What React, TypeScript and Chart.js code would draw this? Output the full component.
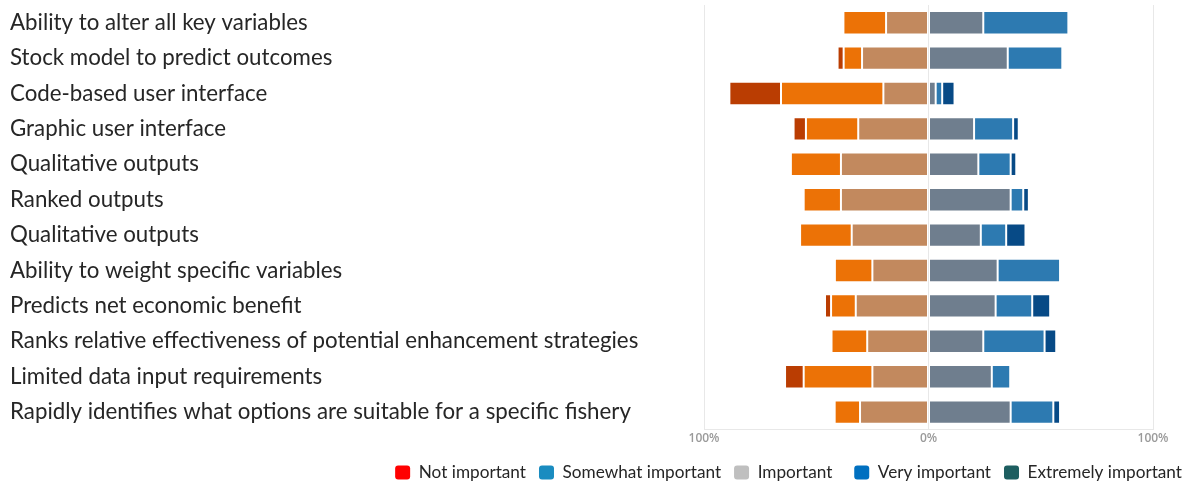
import React, { useEffect, useRef } from "react";
import { Chart, registerables } from "chart.js";

Chart.register(...registerables);

const categories = [
  "Ability to alter all key variables",
  "Stock model to predict outcomes",
  "Code-based user interface",
  "Graphic user interface",
  "Qualitative outputs",
  "Ranked outputs",
  "Qualitative outputs",
  "Ability to weight specific variables",
  "Predicts net economic benefit",
  "Ranks relative effectiveness of potential enhancement strategies",
  "Limited data input requirements",
  "Rapidly identifies what options are suitable for a specific fishery",
];

// left side (shown as negative percentages)
const notImportant = [null, 2.7, 23.0, 5.5, null, null, null, null, 2.7, null, 8.3, null];
const somewhatImportant = [19.0, 8.2, 45.6, 23.3, 22.3, 16.6, 23.0, 16.7, 11.0, 15.9, 30.6, 11.3];
const moderatelyImportant = [18.9, 29.6, 20.1, 31.3, 39.0, 39.0, 34.2, 25.0, 32.4, 27.3, 25.0, 30.5];
// right side
const important = [24.4, 35.3, 3.2, 20.3, 22.2, 36.6, 23.3, 30.8, 29.9, 24.4, 28.2, 36.6];
const veryImportant = [37.9, 24.3, 2.9, 17.4, 14.4, 5.6, 11.3, 27.8, 16.3, 27.3, 8.2, 19.0];
const extremelyImportant = [null, null, 5.5, 2.5, 2.5, 2.5, 8.6, null, 8.0, 5.2, null, 3.0];

const xTicks = [-100, 0, 100];

const legendLabels = [
  "Not important",
  "Somewhat important",
  "Important  ",
  "Very important",
  "Extremely important",
];
const legendColors = ["#FF0000", "#1A8CC0", "#BFBFBF", "#0070C0", "#1D5E60"];

const neg = (arr: (number | null)[]) => arr.map((v) => (v == null ? null : -v));

export default function App() {
  const canvasRef = useRef<HTMLCanvasElement | null>(null);

  useEffect(() => {
    if (!canvasRef.current) return;
    const border = "rgba(255,255,255,0.25)";
    const mk = (label: string, data: (number | null)[], color: string) => ({
      label,
      data,
      backgroundColor: color,
      borderColor: border,
      borderWidth: 1,
      borderSkipped: false,
      barPercentage: 0.66,
      categoryPercentage: 1,
    });
    const chart = new Chart(canvasRef.current, {
      type: "bar",
      data: {
        labels: categories,
        datasets: [
          mk("Moderately important", neg(moderatelyImportant), "#C2895E"),
          mk("Somewhat important", neg(somewhatImportant), "#EC7206"),
          mk("Not important", neg(notImportant), "#BA3D02"),
          mk("Important", important, "#6F7E8E"),
          mk("Very important", veryImportant, "#2D7AB1"),
          mk("Extremely important", extremelyImportant, "#074A86"),
        ] as any,
      },
      options: {
        indexAxis: "y",
        animation: false,
        responsive: true,
        maintainAspectRatio: false,
        layout: { padding: { left: 10, top: 5, right: 0, bottom: 0 } },
        plugins: {
          tooltip: { enabled: false },
          legend: {
            position: "bottom",
            align: "end",
            labels: {
              color: "#262626",
              font: { family: "Lato", size: 17.2 },
              boxWidth: 15,
              boxHeight: 14,
              padding: 13,
              useBorderRadius: true,
              borderRadius: 3,
              generateLabels: () =>
                legendLabels.map((t, i) => ({
                  text: t,
                  fillStyle: legendColors[i],
                  strokeStyle: legendColors[i],
                  lineWidth: 0,
                  hidden: false,
                  borderRadius: 3,
                  datasetIndex: i,
                  fontColor: "#262626",
                })),
            },
          },
        },
        scales: {
          x: {
            stacked: true,
            min: -100,
            max: 100,
            afterBuildTicks: (scale: any) => {
              scale.ticks = xTicks.map((v) => ({ value: v }));
            },
            afterFit: (scale: any) => {
              scale.height = 21;
            },
            grid: { display: true, color: "#E8E8E8", drawTicks: false, lineWidth: 1 },
            border: { display: true, color: "#E8E8E8" },
            ticks: {
              padding: 2,
              color: "#9A9A9A",
              font: { family: "Open Sans", size: 12, weight: "600" },
              maxRotation: 0,
              autoSkip: false,
              callback: (v: any) => Math.abs(Number(v)) + "%",
            },
          },
          y: {
            stacked: true,
            afterFit: (scale: any) => {
              scale.width = 694;
              scale.paddingTop = 0;
              scale.paddingBottom = 0;
            },
            grid: { display: false },
            border: { display: false },
            ticks: {
              crossAlign: "far",
              color: "#262626",
              font: { family: "Lato", size: 22.3 },
              autoSkip: false,
            },
          },
          y2: {
            position: "right",
            display: true,
            afterFit: (scale: any) => {
              scale.width = 42;
              scale.paddingTop = 0;
              scale.paddingBottom = 0;
            },
            grid: { display: false },
            border: { display: false },
            ticks: { display: false },
          },
        },
      } as any,
    });
    return () => chart.destroy();
  }, []);

  return (
    <div
      style={{
        position: "fixed",
        left: 0,
        top: 0,
        width: 1195,
        height: 482,
        overflow: "hidden",
        background: "#fff",
      }}
    >
      <div style={{ position: "relative", width: 1195, height: 491 }}>
        <canvas ref={canvasRef} />
      </div>
    </div>
  );
}
